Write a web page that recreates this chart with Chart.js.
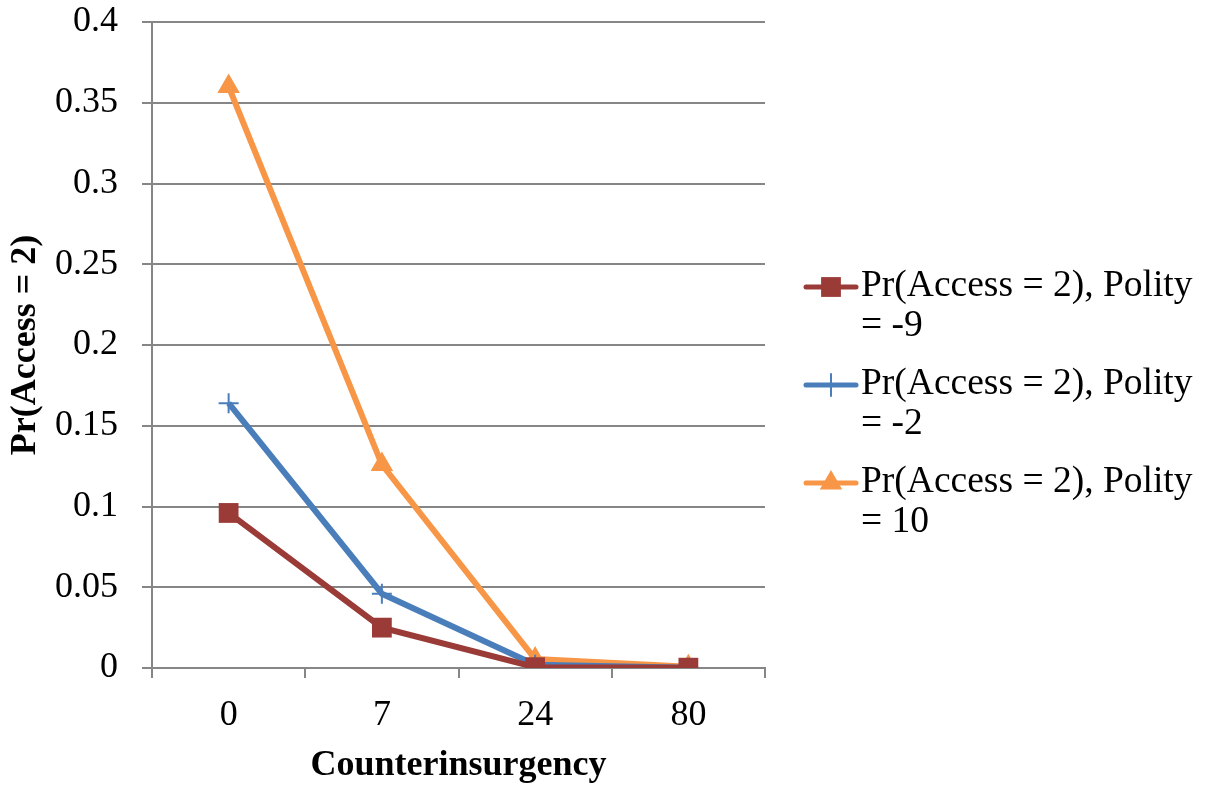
<!DOCTYPE html>
<html>
<head>
<meta charset="utf-8">
<script src="https://cdn.jsdelivr.net/npm/chart.js@4.4.0/dist/chart.umd.min.js"></script>
<style>
    body { margin: 0; background: #fff; }
    #wrap { position: relative; width: 1207px; height: 789px; }
    #legend { position: absolute; left: 803px; top: 264px; font-family: "Liberation Serif", "Times New Roman", serif; font-size: 37.5px; color: #000; }
    .item { display: flex; align-items: flex-start; margin-bottom: 18px; }
    .item canvas { margin-top: 3px; }
    .item span { line-height: 40px; margin-left: 2px; white-space: nowrap; }
</style>
</head>
<body>
<div id="wrap">
    <canvas id="chart" width="1207" height="789"></canvas>
    <div id="legend"></div>
</div>
<script>
    const categories = ["0", "7", "24", "80"];
    const polityMinus9 = [0.096, 0.025, 0.0005, 0.0002];
    const polityMinus2 = [0.164, 0.046, 0.002, 0.0001];
    const polity10 = [0.36, 0.126, 0.0055, 0.0008];
    const seriesNames = [
        "Pr(Access = 2), Polity = -9",
        "Pr(Access = 2), Polity = -2",
        "Pr(Access = 2), Polity = 10"
    ];
    const yTicks = [0, 0.05, 0.1, 0.15, 0.2, 0.25, 0.3, 0.35, 0.4];

    const serif = "'Liberation Serif', 'Times New Roman', serif";

    const chart = new Chart(document.getElementById("chart"), {
        type: "line",
        data: {
            labels: categories,
            datasets: [
                {
                    label: seriesNames[0],
                    data: polityMinus9,
                    borderColor: "#9A3B38",
                    backgroundColor: "#9A3B38",
                    borderWidth: 6,
                    pointStyle: "rect",
                    pointRadius: 14,
                    pointBorderWidth: 0,
                    tension: 0
                },
                {
                    label: seriesNames[1],
                    data: polityMinus2,
                    borderColor: "#4A7EBB",
                    backgroundColor: "#4A7EBB",
                    borderWidth: 6,
                    pointStyle: "cross",
                    pointRadius: 10,
                    pointBorderWidth: 2,
                    tension: 0
                },
                {
                    label: seriesNames[2],
                    data: polity10,
                    borderColor: "#F79646",
                    backgroundColor: "#F79646",
                    borderWidth: 6,
                    pointStyle: "triangle",
                    pointRadius: 13,
                    pointBorderWidth: 0,
                    tension: 0
                }
            ]
        },
        options: {
            responsive: false,
            animation: false,
            layout: { padding: { left: 0, right: 442, top: 22, bottom: 0 } },
            plugins: {
                legend: { display: false },
                tooltip: { enabled: false }
            },
            scales: {
                x: {
                    offset: true,
                    grid: {
                        offset: true,
                        drawOnChartArea: false,
                        drawTicks: true,
                        tickLength: 10,
                        color: "#868686",
                        lineWidth: 2
                    },
                    border: { color: "#868686", width: 2 },
                    ticks: {
                        color: "#000",
                        padding: 16,
                        font: { family: serif, size: 36 }
                    },
                    title: {
                        display: true,
                        text: "Counterinsurgency",
                        color: "#000",
                        padding: { top: 6, bottom: 2 },
                        font: { family: serif, size: 36, weight: "bold" }
                    },
                    afterFit: s => { s.height = 121; }
                },
                y: {
                    min: 0,
                    max: 0.4,
                    afterBuildTicks: s => { s.ticks = yTicks.map(v => ({ value: v })); },
                    grid: {
                        tickLength: 10,
                        color: "#868686",
                        lineWidth: 2
                    },
                    border: { color: "#868686", width: 2 },
                    ticks: {
                        color: "#000",
                        padding: 24,
                        font: { family: serif, size: 36 },
                        callback: v => String(v)
                    },
                    title: {
                        display: true,
                        text: "Pr(Access = 2)",
                        color: "#000",
                        padding: { bottom: 4 },
                        font: { family: serif, size: 36, weight: "bold" }
                    },
                    afterFit: s => {
                        s.width = 152;
                        s.paddingTop = 0;
                        s.paddingBottom = 0;
                    }
                }
            }
        }
    });

    // легенда в две строки, как в оригинале
    const legend = document.getElementById("legend");
    chart.data.datasets.forEach(ds => {
        const item = document.createElement("div");
        item.className = "item";
        const icon = document.createElement("canvas");
        icon.width = 56;
        icon.height = 40;
        const ctx = icon.getContext("2d");
        ctx.strokeStyle = ds.borderColor;
        ctx.lineWidth = 5;
        ctx.lineCap = "round";
        ctx.beginPath();
        ctx.moveTo(3, 20);
        ctx.lineTo(53, 20);
        ctx.stroke();
        ctx.fillStyle = ds.backgroundColor;
        ctx.lineWidth = ds.pointBorderWidth || 1;
        Chart.helpers.drawPoint(ctx, {
            pointStyle: ds.pointStyle,
            radius: ds.pointRadius + (ds.pointStyle === "cross" ? 1 : 0),
            borderWidth: ds.pointBorderWidth
        }, 28, 20);
        const parts = ds.label.split(", ");
        const text = document.createElement("span");
        text.innerHTML = parts[0] + ", " + parts[1].replace(" = ", "<br>= ");
        item.appendChild(icon);
        item.appendChild(text);
        legend.appendChild(item);
    });
</script>
</body>
</html>
